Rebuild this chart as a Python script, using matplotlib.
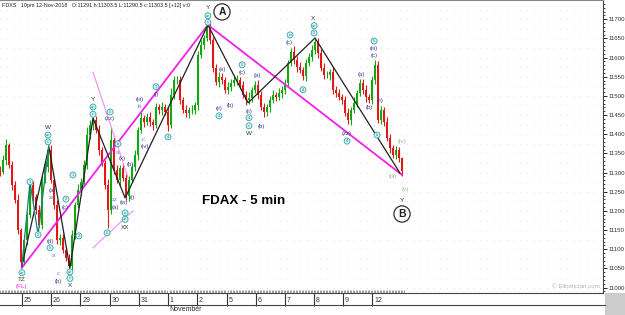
import matplotlib
matplotlib.use("Agg")
import matplotlib.pyplot as plt
import numpy as np
from matplotlib.lines import Line2D
from matplotlib.patches import Rectangle

plt.rcParams['font.family'] = ['Liberation Sans', 'DejaVu Sans']

# 5-min FDAX closes, sampled along the chart (one value per bar slot)
closes = [11302, 11333, 11372, 11320, 11268, 11229, 11151, 11067, 11124, 11190,
          11268, 11237, 11203, 11164, 11281, 11315, 11359, 11281, 11216, 11124,
          11130, 11098, 11077, 11057, 11137, 11216, 11255, 11276, 11320, 11398,
          11424, 11437, 11411, 11359, 11325, 11268, 11203, 11385, 11307, 11281,
          11312, 11286, 11239, 11281, 11315, 11346, 11411, 11443, 11432, 11445,
          11432, 11424, 11471, 11463, 11471, 11458, 11424, 11503, 11542, 11542,
          11490, 11463, 11456, 11463, 11463, 11477, 11607, 11633, 11651, 11680,
          11646, 11573, 11536, 11550, 11542, 11516, 11523, 11534, 11542, 11542,
          11529, 11503, 11490, 11495, 11516, 11529, 11503, 11471, 11458, 11471,
          11490, 11503, 11497, 11508, 11516, 11534, 11586, 11615, 11594, 11576,
          11568, 11552, 11586, 11602, 11620, 11641, 11612, 11573, 11555, 11555,
          11563, 11516, 11508, 11497, 11490, 11456, 11437, 11463, 11482, 11508,
          11534, 11516, 11497, 11490, 11542, 11581, 11437, 11463, 11432, 11390,
          11364, 11346, 11359, 11338, 11303.5]
upper_wick = [8, 12, 15, 6, 10, 9, 14, 5, 12, 8, 18, 10, 7, 12, 9,
              10, 8, 14, 6, 12, 9, 11, 7, 10, 13, 8, 15, 9, 12, 20,
              14, 8, 10, 12, 7, 9, 16, 35, 10, 12, 8, 14, 9, 11, 7,
              12, 9, 15, 8, 10, 13, 7, 11, 9, 14, 8, 12, 18, 10, 9,
              11, 7, 13, 9, 12, 8, 10, 14, 9, 8, 11, 7, 10, 12, 9,
              8, 13, 10, 9, 12, 7, 11, 9, 14, 8, 10, 12, 9, 11, 8,
              10, 13, 8, 12, 9, 11, 7, 10, 14, 9, 12, 8, 10, 9, 13,
              8, 11, 9, 12, 10, 7, 13, 9, 11, 8, 10, 12, 9, 14, 8,
              11, 9, 12, 8, 10, 13, 9, 11, 7, 12, 10, 8, 11, 9, 3]
lower_wick = [10, 7, 12, 9, 14, 8, 11, 15, 9, 12, 8, 13, 10, 7, 11,
              9, 13, 8, 12, 10, 14, 9, 8, 11, 12, 10, 8, 13, 9, 11,
              10, 12, 8, 14, 9, 11, 47, 10, 12, 8, 15, 9, 11, 13, 8,
              10, 12, 9, 14, 8, 11, 13, 9, 10, 12, 8, 15, 9, 11, 10,
              12, 8, 10, 13, 9, 11, 14, 8, 10, 9, 12, 10, 8, 13, 11,
              9, 12, 10, 8, 14, 11, 9, 13, 10, 12, 8, 11, 9, 14, 10,
              12, 9, 11, 8, 13, 10, 12, 9, 11, 14, 8, 10, 13, 9, 11,
              10, 12, 8, 11, 9, 13, 10, 12, 8, 11, 9, 10, 14, 8, 12,
              9, 11, 13, 8, 10, 12, 9, 11, 10, 8, 12, 9, 11, 10, 13]

day_labels = ['25', '26', '29', '30', '31', '1', '2', '5', '6', '7', '8', '9', '12']
day_start = [7.3, 17.1, 26.8, 36.5, 46.3, 56.0, 65.7, 75.5, 85.2, 94.9, 104.7, 114.4, 124.1]

# wave pivots (black zigzag)
piv_bar = [7.3, 16.3, 23.3, 31.0, 41.7, 69.3, 82.7, 105.0, 133.3]
piv_price = [11057, 11367, 11051, 11442, 11234, 11685, 11482, 11651, 11299]
# sub-wave line (teal)
sub_bar = [7.3, 10.0, 12.7, 16.3]
sub_price = [11057, 11276, 11138, 11372]
# magenta trend lines
pink_bar = [7.3, 69.3, 134.0]
pink_price = [11052, 11685, 11294]
# light pink channel lines
chan1_bar, chan1_price = [31.0, 42.7], [11562, 11286]
chan2_bar, chan2_price = [31.0, 44.3], [11104, 11200]

circled = [('zz', 69.3, 11709), ('c', 69.3, 11692), ('zz', 104.7, 11683), ('5', 104.7, 11664),
           ('w', 96.7, 11659), ('5', 124.7, 11643), ('5', 80.7, 11581), ('4', 73.0, 11448),
           ('4', 83.0, 11443), ('c', 83.0, 11422), ('4', 101.0, 11516), ('4', 115.7, 11382),
           ('b', 125.7, 11398), ('zz', 16.0, 11398), ('c', 16.0, 11380), ('zz', 31.0, 11471),
           ('c', 31.0, 11452), ('5', 36.7, 11458), ('1', 10.0, 11276), ('2', 12.7, 11138),
           ('1', 24.3, 11294), ('3', 22.0, 11231), ('2', 26.3, 11135), ('5', 16.7, 11104),
           ('zz', 23.3, 11041), ('c', 23.3, 11024), ('zz', 7.3, 11039), ('a', 41.7, 11195),
           ('zz', 41.7, 11178), ('5', 35.7, 11143), ('3', 52.0, 11524), ('4', 56.0, 11393),
           ('b', 39.3, 11375)]
paren = [('(a)', 74.0, 11568), ('(b)', 76.7, 11476), ('(c)', 80.7, 11560), ('(a)', 85.7, 11552),
         ('(ii)', 73.0, 11468), ('(ii)', 83.0, 11460), ('(b)', 87.0, 11419), ('(c)', 96.3, 11638),
         ('(a)', 120.3, 11555), ('(b)', 123.0, 11469), ('(iii)', 124.7, 11624), ('(c)', 124.7, 11604),
         ('(ii)', 126.7, 11487), ('(zz)', 115.7, 11401), ('(zz)', 36.7, 11440), ('(a)', 17.3, 11252),
         ('(c)', 21.7, 11210), ('(d)', 16.7, 11120), ('(b)', 19.3, 11015), ('(a)', 38.3, 11210),
         ('(w)', 41.3, 11222), ('(i)', 44.0, 11236), ('(x)', 40.7, 11338), ('(iii)', 46.7, 11490),
         ('(i)', 52.0, 11503), ('(iv)', 48.3, 11367), ('(b)', 43.3, 11322)]
light = [('zz', 17.3, 11234), ('a', 17.7, 11083), ('c', 19.3, 11036), ('zz', 38.3, 11231),
         ('a', 39.0, 11352), ('iii', 46.7, 11471), ('c', 47.7, 11385)]
black_lbl = [('W', 16.0, 11418), ('Y', 31.0, 11490), ('X', 23.3, 11005), ('TZ', 7.3, 11020),
             ('XX', 41.7, 11158), ('W', 83.0, 11402), ('X', 104.3, 11703), ('Y', 134.0, 11226),
             ('Y', 69.3, 11730)]
green_lbl = [('(iv)', 134.0, 11380), ('(iii)', 131.0, 11289), ('(v)', 135.0, 11255)]

fig = plt.figure(figsize=(6.25, 3.15), dpi=100)
ax = fig.add_axes([0, 1 - 293 / 315, 603 / 625, 293 / 315])

# faint dotted background
for lv in np.arange(11000, 11750, 25):
    ax.axhline(lv, color='#f0cccc', lw=0.6, ls=(0, (1, 7)), zorder=0)

x = np.arange(len(closes))
c = np.array(closes, dtype=float)
o = np.concatenate([[11310.0], c[:-1]])
hi = np.maximum(o, c) + np.array(upper_wick)
lo = np.minimum(o, c) - np.array(lower_wick)
up = c >= o
col = np.where(up, '#10a810', '#e01818')
ax.vlines(x, lo, hi, colors=col, lw=0.8, zorder=2)
ax.bar(x, np.abs(c - o) + 0.5, bottom=np.minimum(o, c), width=0.75, color=col, lw=0, zorder=2)

ax.plot(pink_bar, pink_price, color='#f020e8', lw=1.3, zorder=3)
ax.plot(chan1_bar, chan1_price, color='#f090f0', lw=0.8, zorder=3)
ax.plot(chan2_bar, chan2_price, color='#f090f0', lw=0.8, zorder=3)
ax.plot(piv_bar, piv_price, color='#202020', lw=0.9, zorder=3)
ax.plot(sub_bar, sub_price, color='#1f7f7a', lw=0.9, zorder=3)

for t, bx, py in circled:
    ax.text(bx, py, t, fontsize=2.8, ha='center', va='center', color='#1f8a8a', zorder=5,
            bbox=dict(boxstyle='circle,pad=0.25', fc='#d4f2f2', ec='#35a5a5', lw=0.6))
for t, bx, py in paren:
    ax.text(bx, py, t, fontsize=4.3, ha='center', va='center', color='#3a3a9a', zorder=5)
for t, bx, py in light:
    ax.text(bx, py, t, fontsize=4.3, ha='center', va='center', color='#5a90e0', zorder=5)
for t, bx, py in black_lbl:
    ax.text(bx, py, t, fontsize=4.6, ha='center', va='center', color='#303030', zorder=5)
for t, bx, py in green_lbl:
    ax.text(bx, py, t, fontsize=4.6, ha='center', va='center', color='#8cc48c', zorder=5)
ax.text(7.3, 11002, '(FL)', fontsize=4.6, ha='center', va='center', color='#f030e0')

for t, bx, py in [('A', 74.0, 11719), ('B', 134.0, 11192)]:
    ax.text(bx, py, t, fontsize=7.5, fontweight='bold', ha='center', va='center', color='#202020',
            bbox=dict(boxstyle='circle,pad=0.3', fc='white', ec='#303030', lw=0.9), zorder=6)

ax.text(67.3, 11226, 'FDAX - 5 min', fontsize=9.6, fontweight='bold', ha='left', va='center',
        color='black')
ax.text(200, 11003, '\u00a9 Elliottician.com', fontsize=4.5, ha='right', va='center', color='#b4b4b4')

ax.set_xlim(0, 201)
ax.set_ylim(10986, 11750)

ax.yaxis.tick_right()
ax.set_yticks(np.arange(11000, 11701, 50))
ax.set_yticks(np.arange(10990, 11750, 10), minor=True)
ax.tick_params(axis='y', which='major', direction='out', length=3, width=0.6, labelsize=4.4,
               labelcolor='#333333', pad=1)
ax.tick_params(axis='y', which='minor', direction='out', length=1.5, width=0.5)

ax.set_xticks(day_start)
ax.set_xticklabels([])
ax.set_xticks(np.arange(0, len(closes), 0.5), minor=True)
ax.tick_params(axis='x', which='major', direction='out', length=9, width=0.8, color='#333333')
ax.tick_params(axis='x', which='minor', direction='in', length=2.5, width=0.4, color='#555555')
for t, d in zip(day_labels, day_start):
    ax.text(d + 0.6, -0.024, t, transform=ax.get_xaxis_transform(), fontsize=5,
            ha='left', va='center', color='#333333')
ax.text(day_start[5] + 0.3, -0.058, 'November', transform=ax.get_xaxis_transform(),
        fontsize=5, ha='left', va='center', color='#333333')

ax.spines['left'].set_visible(False)
ax.spines['top'].set_color('#888888')
ax.spines['bottom'].set_color('#444444')
ax.spines['right'].set_color('#444444')
ax.spines['bottom'].set_linewidth(0.8)
ax.spines['right'].set_linewidth(0.8)

fig.add_artist(Line2D([0, 605 / 625], [1 - 305 / 315] * 2, color='#444444', lw=0.8))
fig.add_artist(Rectangle((605 / 625, 0), 20 / 625, 22 / 315, color='#cccccc', lw=0))
fig.text(2 / 625, 1 - 6 / 315, 'FDXS   10pm 12-Nov-2018   O:11291 h:11303.5 L:11290.5 c:11303.5 [+12] v:0',
         fontsize=3.9, va='center', ha='left', color='#222222')

fig.savefig('out.png', dpi=100)
